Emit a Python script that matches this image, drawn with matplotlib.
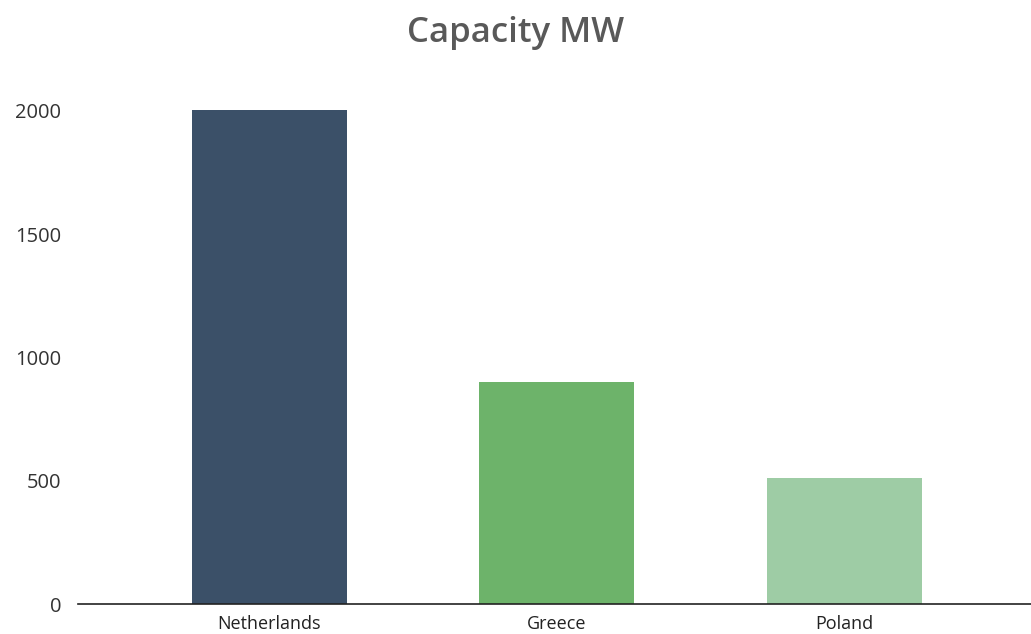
import numpy as np
import matplotlib.pyplot as plt

countries = ["Netherlands", "Greece", "Poland"]
capacity_mw = [2005, 900, 510]
bar_colors = ["#3B5068", "#6DB36A", "#9ECCA5"]
y_ticks = [0, 500, 1000, 1500, 2000]

plt.rcParams["font.family"] = ["Open Sans", "DejaVu Sans"]

fig = plt.figure(figsize=(10.31, 6.34), dpi=100)
ax = fig.add_axes([0.0757, 0.0473, 0.9243, 0.8167])

x = np.arange(len(countries))
ax.bar(x, capacity_mw, width=0.54, color=bar_colors)

ax.set_xlim(-0.665, 2.65)
ax.set_ylim(0, 2100)
ax.set_xticks(x)
ax.set_xticklabels(countries, fontsize=13, color="#222222")
ax.set_yticks(y_ticks)
ax.set_yticklabels([str(t) for t in y_ticks], fontsize=14.5, color="#333333")
ax.tick_params(axis="both", length=0)
ax.tick_params(axis="y", pad=12)
ax.tick_params(axis="x", pad=8)

for s in ["top", "right", "left"]:
    ax.spines[s].set_visible(False)
ax.spines["bottom"].set_color("#222222")
ax.spines["bottom"].set_linewidth(1.2)

fig.text(0.5, 0.948, "Capacity MW", ha="center", va="center",
         fontsize=25, color="#595959", fontweight="semibold")

fig.savefig("out.png", dpi=100)
